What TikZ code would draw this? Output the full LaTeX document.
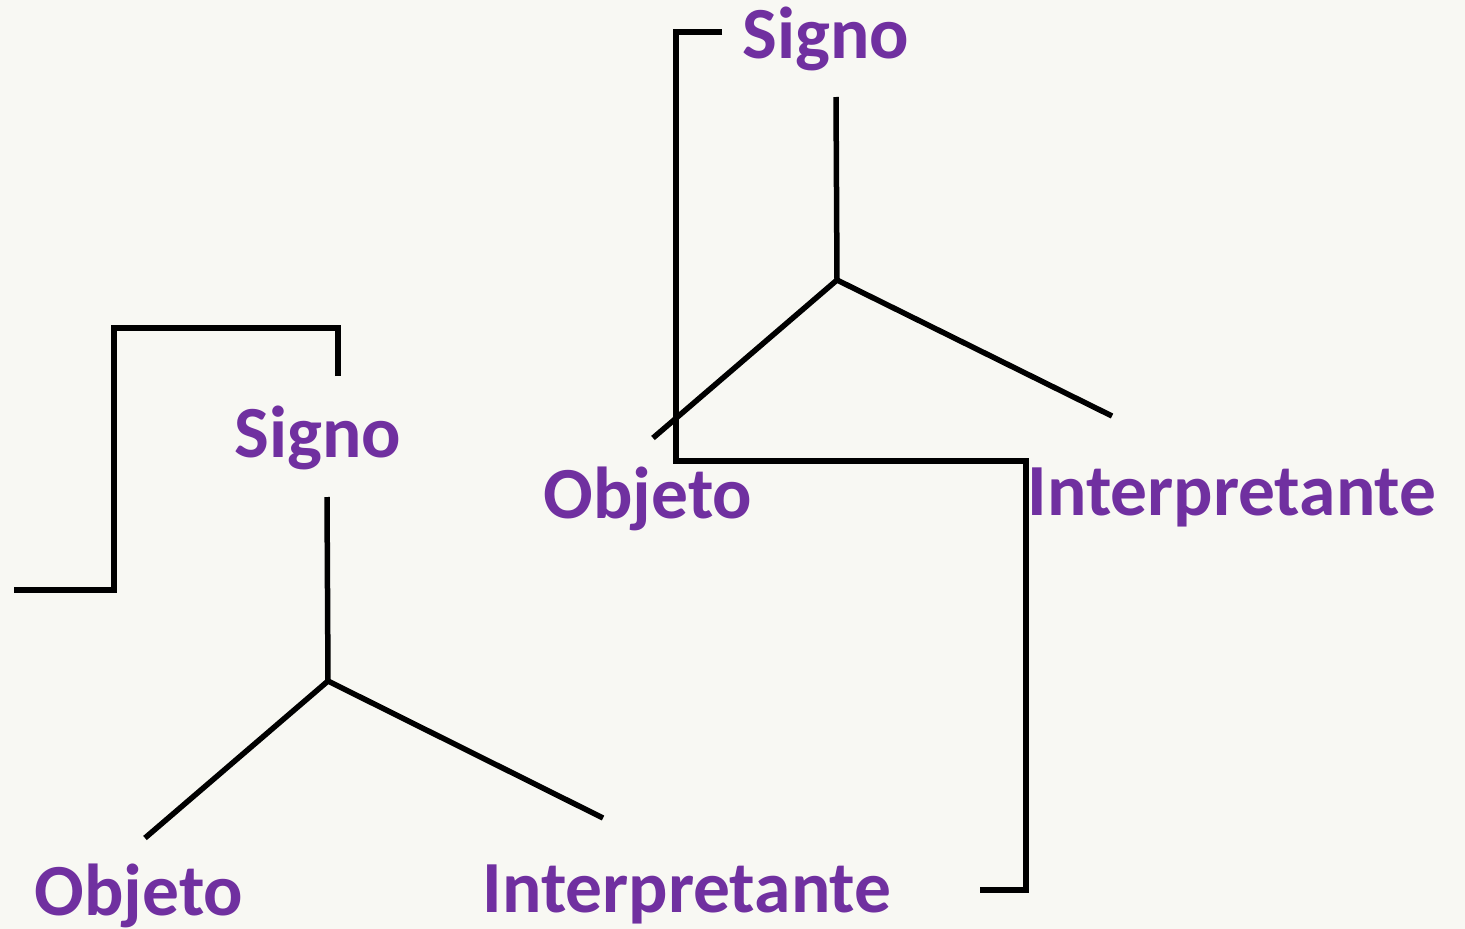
\documentclass[tikz,border=0pt]{standalone}
\usepackage{fontspec}
\setmainfont{Carlito}
\definecolor{bgc}{HTML}{F8F8F3}
\definecolor{purp}{HTML}{7030A0}
\tikzset{
  lbl/.style={text=purp, font=\fontsize{73.5}{88}\selectfont\bfseries, inner sep=0pt, anchor=base},
  ln/.style={line width=5.5pt, black},
  brk/.style={line width=5.5pt, black, line join=miter}
}
\begin{document}
\begin{tikzpicture}[x=1pt,y=-1pt]
\fill[bgc] (0,0) rectangle (1465,929);
\useasboundingbox (0,0) rectangle (1465,929);
% top group
\node[lbl] (s1) at (826,58) {Signo};
\node[lbl] (o1) at (648,518) {Objeto};
\node[lbl] (i1) at (1232,515) {Interpretante};
\coordinate (s1t) at (836,97);
\coordinate (c1) at (837,280);
\coordinate (o1e) at (653,438);
\coordinate (i1e) at (1112,416);
\draw[ln] (s1t) -- (c1);
\draw[ln] (c1) -- (o1e);
\draw[ln] (c1) -- (i1e);
\coordinate (b1a) at (722,32);
\coordinate (b1b) at (980,890);
\draw[brk] (b1a) -- (676,32) -- (676,461) -- (1026,461) -- (1026,890) -- (b1b);
% bottom group
\node[lbl] (s2) at (318,457) {Signo};
\node[lbl] (o2) at (139,915) {Objeto};
\node[lbl] (i2) at (687,912) {Interpretante};
\coordinate (s2t) at (327,497);
\coordinate (c2) at (328,681);
\coordinate (o2e) at (145,838);
\coordinate (i2e) at (603,818);
\draw[ln] (s2t) -- (c2);
\draw[ln] (c2) -- (o2e);
\draw[ln] (c2) -- (i2e);
\coordinate (b2a) at (338,376);
\coordinate (b2b) at (14,590);
\draw[brk] (b2a) -- (338,328) -- (114,328) -- (114,590) -- (b2b);
\end{tikzpicture}
\end{document}
